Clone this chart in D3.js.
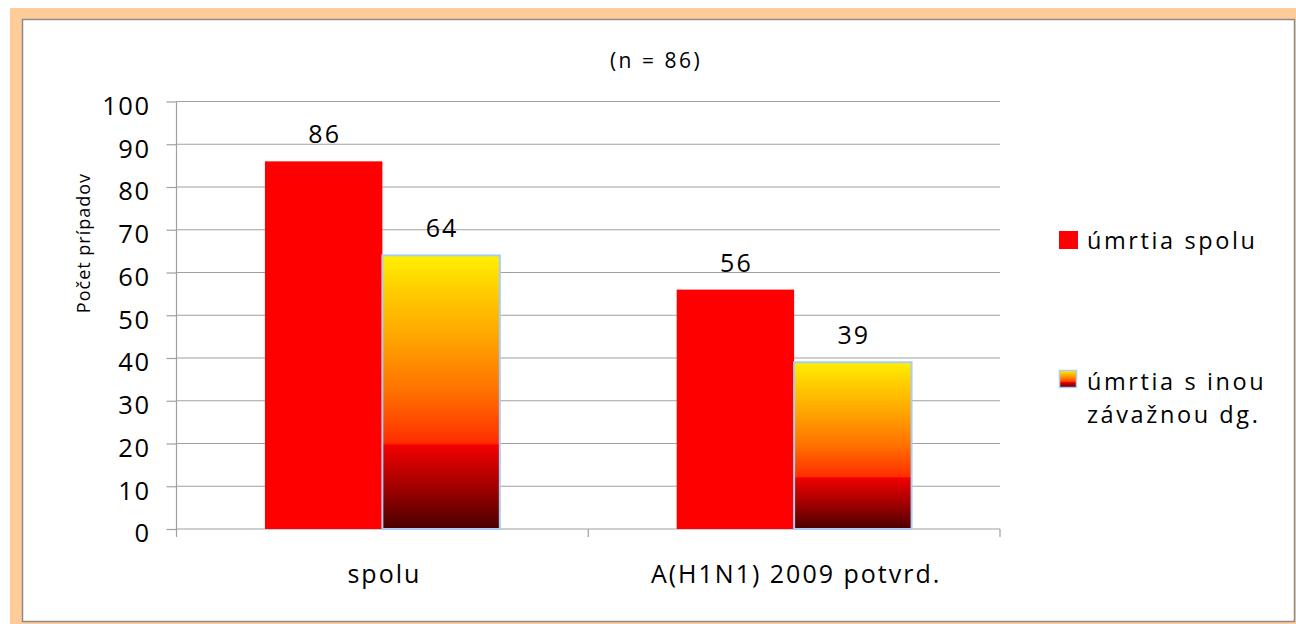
<!DOCTYPE html>
<html>
<head>
<meta charset="utf-8">
<script src="https://cdn.jsdelivr.net/npm/d3@7"></script>
<style>
html, body { margin: 0; padding: 0; background: #fff; }
svg { display: block; }
text { font-family: "Open Sans", "DejaVu Sans", sans-serif; fill: #000; }
</style>
</head>
<body>
<svg id="chart" width="1296" height="624"></svg>
<script>
const categories = ["spolu", "A(H1N1) 2009 potvrd."];
const seriesNames = ["úmrtia spolu", "úmrtia s inou závažnou dg."];
const totalDeaths = [86, 56];
const otherDiagDeaths = [64, 39];
const yTicks = [0, 10, 20, 30, 40, 50, 60, 70, 80, 90, 100];
const titleText = "(n = 86)";
const yTitle = "Počet prípadov";

const svg = d3.select("#chart");
const defs = svg.append("defs");

// gradient for second series
const grad = defs.append("linearGradient").attr("id", "fireGrad")
  .attr("x1", 0).attr("y1", 1).attr("x2", 0).attr("y2", 0);
[[0, "#4a0000"], [0.15, "#a00000"], [0.305, "#f00000"], [0.315, "#ff2e00"],
 [0.5, "#ff7000"], [0.7, "#ffa500"], [0.85, "#ffc800"], [1, "#fff000"]]
  .forEach(([o, c]) => grad.append("stop").attr("offset", o).attr("stop-color", c));

// frame
svg.append("rect").attr("x", 10).attr("y", 8).attr("width", 1286).attr("height", 616).attr("fill", "#ffcc99");
svg.append("rect").attr("x", 22.5).attr("y", 19.5).attr("width", 1272).attr("height", 602)
  .attr("fill", "#fff").attr("stroke", "#8c8c8c").attr("stroke-width", 1.5);

const plot = { left: 176.5, right: 1000, top: 101.5, bottom: 529 };

const x0 = d3.scaleBand().domain(categories).range([plot.left, plot.right]).paddingInner(0).paddingOuter(0);
const x1 = d3.scaleBand().domain([0, 1]).range([0, x0.bandwidth()]).paddingInner(0).paddingOuter(0.753);
const y = d3.scaleLinear().domain([0, 100]).range([plot.bottom, plot.top]);

// gridlines
svg.append("g").selectAll("line").data(yTicks.filter(d => d > 0)).join("line")
  .attr("x1", plot.left).attr("x2", plot.right)
  .attr("y1", d => y(d)).attr("y2", d => y(d))
  .attr("stroke", "#a0a0a0").attr("stroke-width", 1.2);

// y axis
const yAxis = svg.append("g").attr("transform", `translate(${plot.left},0)`)
  .call(d3.axisLeft(y).tickValues(yTicks).tickSize(10).tickPadding(16));
yAxis.select(".domain").attr("stroke", "#a0a0a0").attr("stroke-width", 1.2).attr("d", `M0,${plot.top}V${plot.bottom + 8}`);
yAxis.selectAll(".tick line").attr("stroke", "#a0a0a0").attr("stroke-width", 1.2);
yAxis.selectAll(".tick text").style("font-size", "25.5px").style("letter-spacing", "1.5px")
  .attr("dy", "0.5em");
yAxis.attr("font-family", null);

// x axis
const xAxis = svg.append("g").attr("transform", `translate(0,${plot.bottom})`);
xAxis.append("line").attr("x1", plot.left).attr("x2", plot.right).attr("y1", 0).attr("y2", 0)
  .attr("stroke", "#a0a0a0").attr("stroke-width", 1.2);
const sepX = categories.map(c => x0(c) + x0.bandwidth());
xAxis.selectAll("line.sep").data(sepX).join("line").attr("class", "sep")
  .attr("x1", d => d).attr("x2", d => d).attr("y1", 0).attr("y2", 8)
  .attr("stroke", "#a0a0a0").attr("stroke-width", 1.2);
xAxis.selectAll("text").data(categories).join("text")
  .attr("x", d => x0(d) + x0.bandwidth() / 2 + 2).attr("y", 54)
  .attr("text-anchor", "middle").style("font-size", "25px").style("letter-spacing", "2px")
  .text(d => d);

// bars
const rows = categories.map((c, i) => ({ c, vals: [totalDeaths[i], otherDiagDeaths[i]] }));
const g = svg.append("g").selectAll("g").data(rows).join("g")
  .attr("transform", d => `translate(${x0(d.c)},0)`);
g.selectAll("rect").data(d => d.vals.map((v, k) => ({ v, k }))).join("rect")
  .attr("x", d => x1(d.k)).attr("width", x1.bandwidth())
  .attr("y", d => y(d.v)).attr("height", d => y(0) - y(d.v))
  .attr("fill", d => d.k === 0 ? "#ff0000" : "url(#fireGrad)")
  .attr("stroke", d => d.k === 0 ? "none" : "#a9cdf2")
  .attr("stroke-width", 2);
g.selectAll("text").data(d => d.vals.map((v, k) => ({ v, k }))).join("text")
  .attr("x", d => x1(d.k) + x1.bandwidth() / 2 + 1).attr("y", d => y(d.v) - 18)
  .attr("text-anchor", "middle").style("font-size", "25px").style("letter-spacing", "2px").text(d => d.v);

// title
svg.append("text").attr("x", 656).attr("y", 68).attr("text-anchor", "middle")
  .style("font-size", "21px").style("letter-spacing", "2.5px").text(titleText);

// y title
svg.append("text").attr("transform", "translate(90,243) rotate(-90)")
  .attr("text-anchor", "middle").style("font-size", "18px").style("letter-spacing", "1px").text(yTitle);

// legend
const leg = svg.append("g");
leg.append("rect").attr("x", 1059).attr("y", 231).attr("width", 19).attr("height", 18).attr("fill", "#ff0000");
leg.append("text").attr("x", 1087).attr("y", 249).style("font-size", "23.5px").style("letter-spacing", "2.6px").text(seriesNames[0]);
leg.append("rect").attr("x", 1059.5).attr("y", 370.5).attr("width", 17).attr("height", 17)
  .attr("fill", "url(#fireGrad)").attr("stroke", "#a9cdf2").attr("stroke-width", 1.5);
const t2 = leg.append("text").style("font-size", "23.5px").style("letter-spacing", "2.6px");
t2.append("tspan").attr("x", 1087).attr("y", 390).text("úmrtia s inou");
t2.append("tspan").attr("x", 1087).attr("y", 423).text("závažnou dg.");
</script>
</body>
</html>
